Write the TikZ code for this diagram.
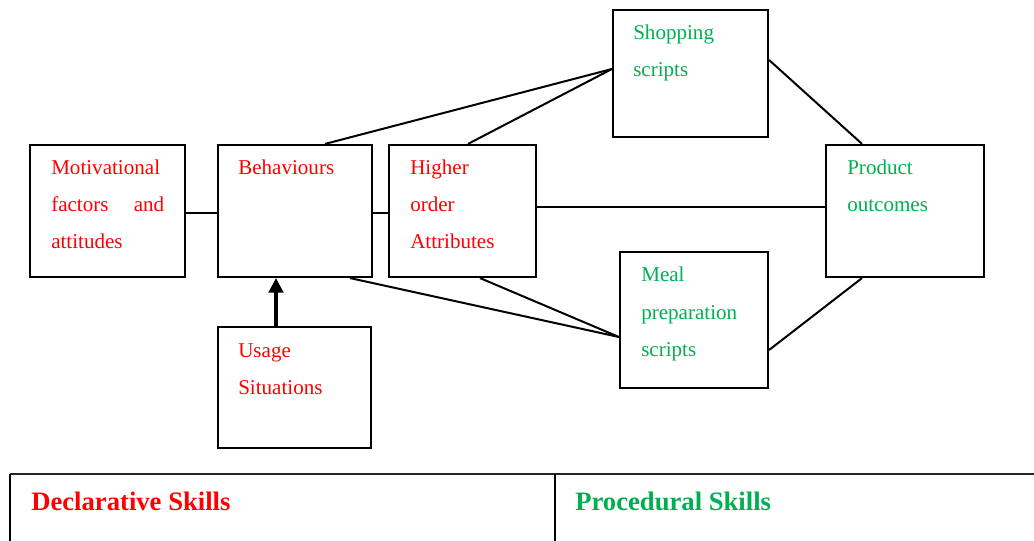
\documentclass[tikz,border=0pt]{standalone}
\usepackage{fontspec}
\setmainfont{Liberation Serif}
\usetikzlibrary{fit,calc,arrows.meta}
\definecolor{redtxt}{RGB}{255,0,0}
\definecolor{greentxt}{RGB}{0,176,80}
\begin{document}
\begin{tikzpicture}[x=0.75pt,y=-0.75pt,
  box/.style={draw=black,line width=1.6pt,inner sep=0pt,rectangle},
  link/.style={draw=black,line width=1.5pt},
  push/.style={draw=black,line width=2.3pt,-{Triangle[length=11pt,width=11pt]}},
  % multi-line labels sit on the baseline of their last line
  txt/.style={inner sep=0pt,anchor=base west,align=left,
    font=\fontsize{15.8pt}{27.75pt}\selectfont},
  dtxt/.style={txt,text=redtxt},
  ptxt/.style={txt,text=greentxt},
  head/.style={inner sep=0pt,anchor=base west,font=\fontsize{20pt}{24pt}\selectfont\bfseries}]
\useasboundingbox (0,0) rectangle (1034,541);

% boxes
\node[box,fit={(30,145) (185,277)}] (mot) {};
\node[box,fit={(218,145) (372,277)}] (beh) {};
\node[box,fit={(389,145) (536,277)}] (hoa) {};
\node[box,fit={(613,10) (768,137)}] (shop) {};
\node[box,fit={(826,145) (984,277)}] (prod) {};
\node[box,fit={(620,252) (768,388)}] (meal) {};
\node[box,fit={(218,327) (371,448)}] (use) {};

% box labels
\node[dtxt] (motT) at (51,249) {Motivational\\\makebox[84.75pt][s]{factors and}\\attitudes};
\node[dtxt] (behT) at (238,175) {Behaviours};
\node[dtxt] (hoaT) at (410,249) {Higher\\order\\Attributes};
\node[ptxt] (shopT) at (633,77) {Shopping\\scripts};
\node[ptxt] (prodT) at (847,212) {Product\\outcomes};
\node[ptxt] (mealT) at (641,356) {Meal\\preparation\\scripts};
\node[dtxt] (useT) at (238,394) {Usage\\Situations};

% connectors
\draw[link] (mot.east |- 0,213) -- (beh.west |- 0,213);
\draw[link] (beh.east |- 0,213) -- (hoa.west |- 0,213);
\draw[link] (beh.north -| 325,0) -- (shop.west |- 0,69);
\draw[link] (hoa.north -| 468,0) -- (shop.west |- 0,69);
\draw[link] (hoa.east |- 0,207) -- (prod.west |- 0,207);
\draw[link] (shop.east |- 0,60) -- (prod.north -| 862,0);
\draw[link] (beh.south -| 350,0) -- (meal.west |- 0,337);
\draw[link] (hoa.south -| 480,0) -- (meal.west |- 0,337);
\draw[link] (meal.east |- 0,350) -- (prod.south -| 862,0);
\draw[push] (use.north -| 276,0) -- (beh.south -| 276,0);

% skills table
\coordinate (tl) at (10,474);
\coordinate (tm) at (555,474);
\coordinate (tr) at (1034,474);
\draw[line width=1.8pt,draw=black!85] (tl) -- (tr);
\draw[line width=1.5pt] (tl) -- (10,541);
\draw[line width=1.5pt] (tm) -- (555,541);
\node[head,text=redtxt] (decl) at (31,510) {Declarative Skills};
\node[head,text=greentxt] (proc) at (575,510) {Procedural Skills};
\end{tikzpicture}
\end{document}
